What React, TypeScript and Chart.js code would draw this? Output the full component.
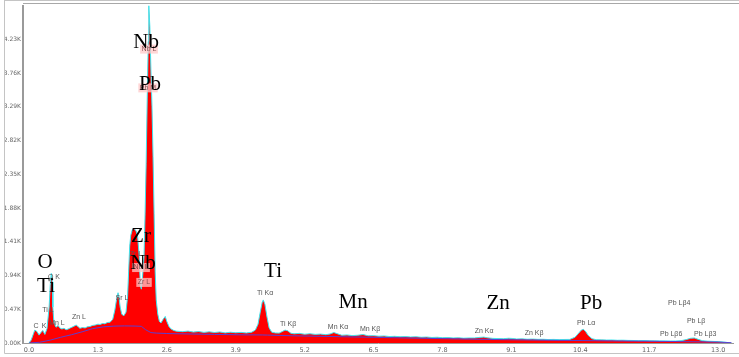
import React, { useEffect, useRef } from "react";
import { Chart, registerables } from "chart.js";

Chart.register(...registerables);

// ---- Measured spectrum (energy in keV, counts) ----
const spectrumKeV = [
  0.0, 0.04, 0.08, 0.11, 0.15, 0.19, 0.23, 0.26, 0.3, 0.34,
  0.38, 0.4, 0.42, 0.44, 0.45, 0.47, 0.51, 0.55, 0.58, 0.62,
  0.66, 0.7, 0.74, 0.78, 0.81, 0.85, 0.89, 0.93, 0.96, 1.01,
  1.06, 1.1, 1.15, 1.2, 1.25, 1.3, 1.34, 1.39, 1.43, 1.48,
  1.53, 1.58, 1.62, 1.65, 1.68, 1.7, 1.72, 1.75, 1.79, 1.83,
  1.86, 1.88, 1.9, 1.92, 1.95, 1.98, 2.02, 2.05, 2.08, 2.1,
  2.12, 2.14, 2.17, 2.19, 2.21, 2.23, 2.25, 2.26, 2.28, 2.3,
  2.32, 2.34, 2.36, 2.38, 2.4, 2.43, 2.46, 2.49, 2.53, 2.57,
  2.6, 2.64, 2.68, 2.73, 2.78, 2.9, 3.0, 3.1, 3.2, 3.3,
  3.4, 3.5, 3.6, 3.7, 3.8, 3.9, 4.0, 4.1, 4.2, 4.27,
  4.32, 4.36, 4.4, 4.42, 4.45, 4.49, 4.53, 4.58, 4.65, 4.72,
  4.78, 4.83, 4.88, 4.94, 5.0, 5.1, 5.2, 5.3, 5.4, 5.5,
  5.6, 5.68, 5.75, 5.82, 5.9, 6.0, 6.1, 6.2, 6.3, 6.4,
  6.5, 6.6, 6.7, 6.8, 6.9, 7.0, 7.1, 7.2, 7.3, 7.4,
  7.5, 7.6, 7.7, 7.8, 7.9, 8.0, 8.1, 8.2, 8.3, 8.4,
  8.5, 8.58, 8.65, 8.75, 8.85, 8.95, 9.05, 9.12, 9.2, 9.3,
  9.4, 9.5, 9.6, 9.7, 9.8, 9.9, 10.0, 10.1, 10.2, 10.3,
  10.36, 10.42, 10.46, 10.5, 10.55, 10.62, 10.7, 10.8, 10.9, 11.0,
  11.1, 11.2, 11.3, 11.4, 11.5, 11.6, 11.7, 11.8, 11.9, 12.0,
  12.1, 12.2, 12.3, 12.4, 12.48, 12.55, 12.62, 12.7, 12.8, 12.9,
  13.0, 13.1, 13.2, 13.25,
];
const spectrumCounts = [
  0, 40, 120, 180, 160, 110, 150, 175, 120, 200,
  500, 800, 970, 850, 500, 280, 220, 245, 210, 195,
  205, 185, 195, 210, 220, 235, 250, 225, 205, 215,
  210, 225, 230, 245, 250, 262, 258, 272, 268, 285,
  290, 330, 460, 600, 700, 620, 500, 400, 380, 430,
  650, 1000, 1350, 1500, 1580, 1600, 1560, 1480, 1200, 800,
  750, 900, 1200, 1800, 2500, 3400, 4200, 4700, 4400, 3800,
  3300, 2600, 1800, 1000, 600, 400, 300, 280, 330, 370,
  300, 230, 195, 175, 165, 158, 166, 152, 160, 148,
  156, 146, 154, 141, 150, 143, 148, 140, 150, 180,
  260, 420, 570, 600, 540, 360, 210, 150, 140, 138,
  160, 180, 170, 136, 128, 134, 122, 129, 120, 124,
  116, 126, 146, 128, 108, 112, 103, 108, 118, 100,
  102, 95, 98, 90, 93, 87, 90, 84, 87, 80,
  83, 77, 80, 74, 76, 70, 73, 67, 70, 70,
  78, 82, 72, 64, 62, 60, 66, 63, 56, 58,
  53, 55, 51, 52, 48, 50, 47, 49, 50, 80,
  130, 180, 190, 160, 105, 60, 46, 44, 41, 42,
  38, 39, 36, 35, 33, 34, 31, 30, 29, 29,
  27, 28, 32, 48, 66, 70, 52, 32, 25, 22,
  19, 13, 5, 0,
];

// ---- Fitted background continuum ----
const backgroundKeV = [
  0, 0.2, 0.4, 0.6, 0.8, 1.0, 1.2, 1.4, 1.6, 1.8,
  2.0, 2.12, 2.2, 2.3, 2.4, 2.6, 3.0, 3.5, 4.0, 4.4,
  4.5, 5.0, 6.0, 7.0, 8.0, 9.0, 10.0, 10.45, 11.0, 12.0,
  13.0, 13.25,
];
const backgroundCounts = [
  0, 10, 40, 80, 115, 155, 200, 225, 235, 238,
  236, 232, 185, 145, 138, 132, 126, 120, 114, 112,
  110, 100, 86, 72, 58, 46, 36, 34, 29, 22,
  13, 4,
];

// ---- Axis ticks ----
const xTickValues = [0, 1.3, 2.6, 3.9, 5.2, 6.5, 7.8, 9.1, 10.4, 11.7, 13.0];
const yTickValues = [0, 470, 940, 1410, 1880, 2350, 2820, 3290, 3760, 4230];

// ---- Element annotations (big) ----
const elementNames = ["Nb", "Pb", "Zr", "Nb", "O", "Ti", "Ti", "Mn", "Zn", "Pb"];
const elementKeV = [2.208, 2.283, 2.113, 2.151, 0.302, 0.321, 4.604, 6.113, 8.849, 10.604];
const elementCounts = [4191, 3596, 1480, 1106, 1120, 788, 996, 567, 553, 553];

// ---- Line annotations (small) ----
const lineNames = [
  "C", "K", "O K", "Ti L", "Mn L", "Zn L", "Sr L", "Zr L", "Nb L", "Zr L",
  "Nb L", "Pb M", "Ti Kα", "Ti Kβ", "Mn Kα", "Mn Kβ", "Zn Kα", "Zn Kβ", "Pb Lα", "Pb Lβ6",
  "Pb Lβ4", "Pb Lβ", "Pb Lβ3",
];
const lineKeV = [
  0.132, 0.283, 0.472, 0.358, 0.528, 0.943, 1.755, 2.019, 2.113, 2.17,
  2.264, 2.245, 4.453, 4.887, 5.83, 6.434, 8.585, 9.528, 10.509, 12.113,
  12.264, 12.585, 12.755,
];
const lineCounts = [
  235, 235, 913, 456, 277, 360, 622, 1245, 1051, 844,
  4094, 3554, 692, 263, 221, 194, 166, 138, 277, 124,
  553, 304, 124,
];

const boxedLines = new Set([8, 9, 10, 11]);

const annotationPlugin = {
  id: "peakLabels",
  afterDatasetsDraw(chart: any) {
    const { ctx, scales } = chart;
    const xs = scales.x;
    const ys = scales.y;
    ctx.save();
    ctx.textAlign = "center";
    ctx.textBaseline = "middle";
    ctx.font = "7px 'Liberation Sans', Arial, sans-serif";
    lineNames.forEach((name, i) => {
      const px = xs.getPixelForValue(lineKeV[i]);
      const py = ys.getPixelForValue(lineCounts[i]);
      if (boxedLines.has(i)) {
        const w = ctx.measureText(name).width + 3;
        ctx.fillStyle = "rgba(255,200,200,0.75)";
        ctx.fillRect(px - w / 2, py - 4.5, w, 9);
        ctx.fillStyle = "rgba(120,60,60,0.85)";
      } else {
        ctx.fillStyle = "#555";
      }
      ctx.fillText(name, px, py);
    });
    ctx.font = "21px 'Liberation Serif', 'Times New Roman', serif";
    ctx.fillStyle = "#000";
    elementNames.forEach((name, i) => {
      const px = xs.getPixelForValue(elementKeV[i]);
      const py = ys.getPixelForValue(elementCounts[i]);
      ctx.fillText(name, px, py);
    });
    ctx.restore();
  },
  afterDraw(chart: any) {
    const { ctx, chartArea } = chart;
    ctx.save();
    ctx.strokeStyle = "#c4c4c4";
    ctx.lineWidth = 1;
    ctx.beginPath();
    ctx.moveTo(4.5, 0);
    ctx.lineTo(4.5, 353.5);
    ctx.lineTo(739, 353.5);
    ctx.moveTo(4.5, 0.5);
    ctx.lineTo(739, 0.5);
    ctx.stroke();
    ctx.strokeStyle = "#a8a8a8";
    ctx.beginPath();
    ctx.moveTo(chartArea.left, 3.5);
    ctx.lineTo(739, 3.5);
    ctx.stroke();
    ctx.restore();
  },
};

export default function App() {
  const canvasRef = useRef<HTMLCanvasElement | null>(null);

  useEffect(() => {
    document.body.style.margin = "0";
    const canvas = canvasRef.current;
    if (!canvas) return;
    const spectrum = spectrumKeV.map((x, i) => ({ x, y: spectrumCounts[i] }));
    const background = backgroundKeV.map((x, i) => ({ x, y: backgroundCounts[i] }));
    const chart = new Chart(canvas, {
      type: "line",
      data: {
        datasets: [
          {
            label: "Background",
            data: background,
            borderColor: "#5b3fd0",
            borderWidth: 1,
            pointRadius: 0,
            fill: false,
            tension: 0,
          },
          {
            label: "Spectrum",
            data: spectrum,
            borderColor: "#3fe4ee",
            backgroundColor: "#ff0000",
            borderWidth: 1,
            pointRadius: 0,
            fill: "origin",
            tension: 0,
          },
        ],
      },
      options: {
        responsive: false,
        animation: false,
        events: [],
        layout: { padding: { left: 0, top: 3, right: 6, bottom: 0 } },
        plugins: {
          legend: { display: false },
          tooltip: { enabled: false },
        },
        scales: {
          x: {
            type: "linear",
            min: -0.113,
            max: 13.28,
            grid: { display: false, drawTicks: false },
            border: { display: true, color: "#9a9a9a", width: 1 },
            afterBuildTicks: (scale: any) => {
              scale.ticks = xTickValues.map((v) => ({ value: v }));
            },
            afterFit: (scale: any) => {
              scale.height = 14;
            },
            ticks: {
              padding: 3,
              color: "#666",
              font: { size: 6.5, family: "'DejaVu Sans', sans-serif" },
              callback: (v: any) => Number(v).toFixed(1),
            },
          },
          y: {
            type: "linear",
            min: 0,
            max: 4700,
            grid: { display: false, drawTicks: false },
            border: { display: true, color: "#9a9a9a", width: 2 },
            afterBuildTicks: (scale: any) => {
              scale.ticks = yTickValues.map((v) => ({ value: v }));
            },
            afterFit: (scale: any) => {
              scale.width = 23;
            },
            ticks: {
              padding: 2,
              color: "#666",
              font: { size: 6, family: "'DejaVu Sans', sans-serif" },
              callback: (v: any) => (Number(v) / 1000).toFixed(2) + "K",
            },
          },
        },
      },
      plugins: [annotationPlugin],
    });
    return () => chart.destroy();
  }, []);

  return (
    <div style={{ position: "fixed", left: 0, top: 0, width: 739, height: 357, background: "#fff" }}>
      <canvas ref={canvasRef} width={739} height={357} style={{ display: "block" }} />
    </div>
  );
}
